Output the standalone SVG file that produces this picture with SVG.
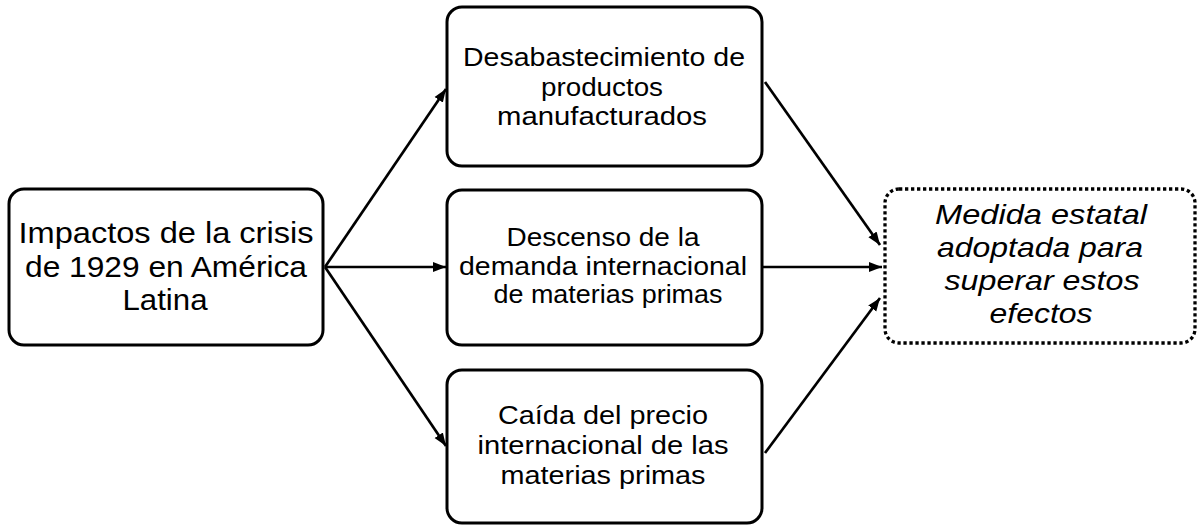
<svg xmlns="http://www.w3.org/2000/svg" width="1199" height="525" viewBox="0 0 1199 525">
<style>
.box{fill:#fff;stroke:#000;stroke-width:3}
.dot{fill:#fff;stroke:#000;stroke-width:3.3;stroke-dasharray:3.3 2.7}
.t{font-family:"Liberation Sans",Arial,sans-serif;fill:#000;text-anchor:middle}
.m{font-size:25.5px}
.l{font-size:30px}
.r{font-size:28px;font-style:italic}
.c{stroke:#000;stroke-width:2.7;fill:none;marker-end:url(#ah)}
</style>
<defs>
<marker id="ah" markerUnits="userSpaceOnUse" markerWidth="14" markerHeight="11" refX="13" refY="5.5" orient="auto">
<path d="M0,0.5 L13,5.5 L0,10.5 z" fill="#000"/>
</marker>
</defs>
<rect width="1199" height="525" fill="#fff"/>
<g id="connectors">
<line class="c" x1="325" y1="267" x2="446" y2="89"/>
<line class="c" x1="325" y1="267" x2="446" y2="267"/>
<line class="c" x1="325" y1="267" x2="446" y2="446"/>
<line class="c" x1="765" y1="82" x2="880" y2="245"/>
<line class="c" x1="762" y1="267" x2="882" y2="267"/>
<line class="c" x1="765" y1="453" x2="880" y2="298"/>
</g>
<g id="n-impactos">
<rect class="box" x="9" y="189" width="314" height="156" rx="15"/>
<text class="t l" x="166" y="243" textLength="295" lengthAdjust="spacingAndGlyphs">Impactos de la crisis</text>
<text class="t l" x="166" y="277" textLength="282" lengthAdjust="spacingAndGlyphs">de 1929 en América</text>
<text class="t l" x="165" y="310" textLength="85" lengthAdjust="spacingAndGlyphs">Latina</text>
</g>
<g id="n-desabastecimiento">
<rect class="box" x="447" y="7" width="315" height="159" rx="15"/>
<text class="t m" x="604" y="66" textLength="282" lengthAdjust="spacingAndGlyphs">Desabastecimiento de</text>
<text class="t m" x="602" y="96" textLength="122" lengthAdjust="spacingAndGlyphs">productos</text>
<text class="t m" x="602" y="125" textLength="210" lengthAdjust="spacingAndGlyphs">manufacturados</text>
</g>
<g id="n-descenso">
<rect class="box" x="447" y="190" width="315" height="155" rx="15"/>
<text class="t m" x="603" y="246" textLength="193" lengthAdjust="spacingAndGlyphs">Descenso de la</text>
<text class="t m" x="603" y="275" textLength="288" lengthAdjust="spacingAndGlyphs">demanda  internacional</text>
<text class="t m" x="608" y="303" textLength="229" lengthAdjust="spacingAndGlyphs">de materias primas</text>
</g>
<g id="n-caida">
<rect class="box" x="447" y="370" width="315" height="153" rx="15"/>
<text class="t m" x="603" y="424" textLength="210" lengthAdjust="spacingAndGlyphs">Caída del precio</text>
<text class="t m" x="603" y="454" textLength="251" lengthAdjust="spacingAndGlyphs">internacional de las</text>
<text class="t m" x="603" y="484" textLength="205" lengthAdjust="spacingAndGlyphs">materias primas</text>
</g>
<g id="n-medida">
<rect class="dot" x="885" y="189" width="310" height="154" rx="14"/>
<text class="t r" x="1041" y="224" textLength="212" lengthAdjust="spacingAndGlyphs">Medida estatal</text>
<text class="t r" x="1040" y="257" textLength="206" lengthAdjust="spacingAndGlyphs">adoptada  para</text>
<text class="t r" x="1042" y="290" textLength="195" lengthAdjust="spacingAndGlyphs">superar estos</text>
<text class="t r" x="1041" y="323" textLength="103" lengthAdjust="spacingAndGlyphs">efectos</text>
</g>
</svg>
